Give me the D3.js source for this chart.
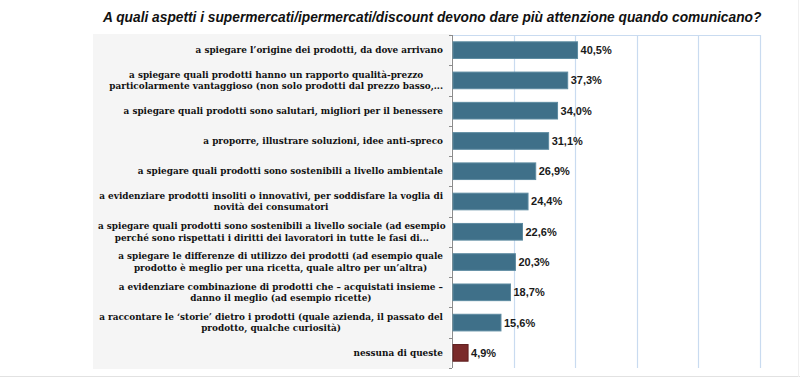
<!DOCTYPE html>
<html>
<head>
<meta charset="utf-8">
<script src="https://cdn.jsdelivr.net/npm/d3@7"></script>
<style>
  body { margin: 0; background: #fff; }
  svg { display: block; }
</style>
</head>
<body>
<div id="chart"></div>
<script>
const dims = { width: 800, height: 378 };

// categories (line breaks as in the original labels)
const categories = [
  "a spiegare l’origine dei prodotti, da dove arrivano",
  "a spiegare quali prodotti hanno un rapporto qualità-prezzo\nparticolarmente vantaggioso (non solo prodotti dal prezzo basso,...",
  "a spiegare quali prodotti sono salutari, migliori per il benessere",
  "a proporre, illustrare soluzioni, idee anti-spreco",
  "a spiegare quali prodotti sono sostenibili a livello ambientale",
  "a evidenziare prodotti insoliti o innovativi, per soddisfare la voglia di\nnovità dei consumatori",
  "a spiegare quali prodotti sono sostenibili a livello sociale (ad esempio\nperché sono rispettati i diritti dei lavoratori in tutte le fasi di...",
  "a spiegare le differenze di utilizzo dei prodotti (ad esempio quale\nprodotto è meglio per una ricetta, quale altro per un’altra)",
  "a evidenziare combinazione di prodotti che – acquistati insieme –\ndanno il meglio (ad esempio ricette)",
  "a raccontare le ‘storie’ dietro i prodotti (quale azienda, il passato del\nprodotto, qualche curiosità)",
  "nessuna di queste"
];
const values = [40.5, 37.3, 34.0, 31.1, 26.9, 24.4, 22.6, 20.3, 18.7, 15.6, 4.9];
const gridTicks = [20, 40, 60, 80, 100];
const title = "A quali aspetti i supermercati/ipermercati/discount devono dare più attenzione quando comunicano?";

const plot = { left: 452, right: 759.5, top: 35, bottom: 368 };

const svg = d3.select('#chart')
    .append('svg')
    .attr('width', dims.width)
    .attr('height', dims.height);

// background frame pieces
svg.append('rect')
    .attr('x', 93).attr('y', 34)
    .attr('width', 358).attr('height', 335)
    .attr('fill', '#f5f5f5');

svg.append('line')
    .attr('x1', 0).attr('x2', dims.width)
    .attr('y1', 376.5).attr('y2', 376.5)
    .attr('stroke', '#e2e2e2');

svg.append('line')
    .attr('x1', 798.5).attr('x2', 798.5)
    .attr('y1', 0).attr('y2', 377)
    .attr('stroke', '#f0f0f0');

// title, squeezed horizontally to look like a condensed face
const titleG = svg.append('g');
const titleText = titleG.append('text')
    .attr('x', 0)
    .attr('y', 0)
    .style('font-family', '"Liberation Sans", Arial, sans-serif')
    .style('font-size', '15px')
    .style('font-weight', 'bold')
    .style('font-style', 'italic')
    .attr('fill', '#111')
    .text(title);
const titleW = titleText.node().getComputedTextLength();
titleG.attr('transform', `translate(103,22) scale(${659 / titleW},1)`);

// scales
const x = d3.scaleLinear()
    .domain([0, 100])
    .range([plot.left, plot.right]);

const y = d3.scaleBand()
    .domain(categories)
    .range([plot.top, plot.bottom])
    .paddingInner(0.45)
    .paddingOuter(0.225);

// gridlines
const grid = svg.append('g');
grid.selectAll('line.grid')
    .data(gridTicks)
    .enter()
    .append('line')
    .attr('class', 'grid')
    .attr('x1', d => Math.round(x(d)) + 0.5)
    .attr('x2', d => Math.round(x(d)) + 0.5)
    .attr('y1', plot.top)
    .attr('y2', plot.bottom)
    .attr('stroke', '#c9dbf0')
    .attr('stroke-width', 1.2);

grid.append('line')
    .attr('x1', plot.left).attr('x2', Math.round(x(100)) + 0.5)
    .attr('y1', plot.top + 0.5).attr('y2', plot.top + 0.5)
    .attr('stroke', '#c9dbf0')
    .attr('stroke-width', 1.2);

// left axis with ticks at band boundaries
const boundaries = d3.range(categories.length + 1).map(i => plot.top + i * (plot.bottom - plot.top) / categories.length);
const axis = svg.append('g');
axis.append('line')
    .attr('x1', plot.left + 0.5).attr('x2', plot.left + 0.5)
    .attr('y1', plot.top).attr('y2', plot.bottom)
    .attr('stroke', '#8c8c8c');
axis.selectAll('line.tick')
    .data(boundaries)
    .enter()
    .append('line')
    .attr('class', 'tick')
    .attr('x1', plot.left - 3).attr('x2', plot.left)
    .attr('y1', d => Math.round(d) + 0.5)
    .attr('y2', d => Math.round(d) + 0.5)
    .attr('stroke', '#8c8c8c');

// bars
const bars = svg.append('g');
bars.selectAll('rect')
    .data(categories)
    .enter()
    .append('rect')
    .attr('x', x(0) + 1)
    .attr('y', d => y(d))
    .attr('width', (d, i) => x(values[i]) - x(0))
    .attr('height', y.bandwidth())
    .attr('fill', (d, i) => i === categories.length - 1 ? '#7a2a2a' : '#3f7089')
    .attr('stroke', (d, i) => i === categories.length - 1 ? '#5f1e1e' : '#5d8ba1')
    .attr('stroke-width', 1);

// value labels
svg.append('g').selectAll('text')
    .data(categories)
    .enter()
    .append('text')
    .attr('x', (d, i) => x(values[i]) + 4)
    .attr('y', d => y(d) + y.bandwidth() / 2)
    .attr('dy', '0.36em')
    .style('font-family', '"Liberation Sans", Arial, sans-serif')
    .style('font-size', '11px')
    .style('font-weight', 'bold')
    .attr('fill', '#1a1a1a')
    .text((d, i) => d3.format('.1f')(values[i]).replace('.', ',') + '%');

// category labels: block right-aligned, lines centred inside the block
const labelRight = 443;
const lineH = 11.5;
const labels = svg.append('g');
categories.forEach(cat => {
    const lines = cat.split('\n');
    const cy = y(cat) + y.bandwidth() / 2;
    const g = labels.append('g');
    const texts = lines.map((ln, k) => g.append('text')
        .attr('y', cy + (k - (lines.length - 1) / 2) * lineH)
        .attr('dy', '0.35em')
        .style('font-family', '"DejaVu Serif", serif')
        .style('font-size', '8.9px')
        .style('font-weight', 'bold')
        .attr('fill', '#111')
        .text(ln));
    const maxW = d3.max(texts, t => t.node().getComputedTextLength());
    const cx = Math.max(labelRight - maxW / 2, 98 + maxW / 2);
    texts.forEach(t => t.attr('x', cx).attr('text-anchor', 'middle'));
});
</script>
</body>
</html>
